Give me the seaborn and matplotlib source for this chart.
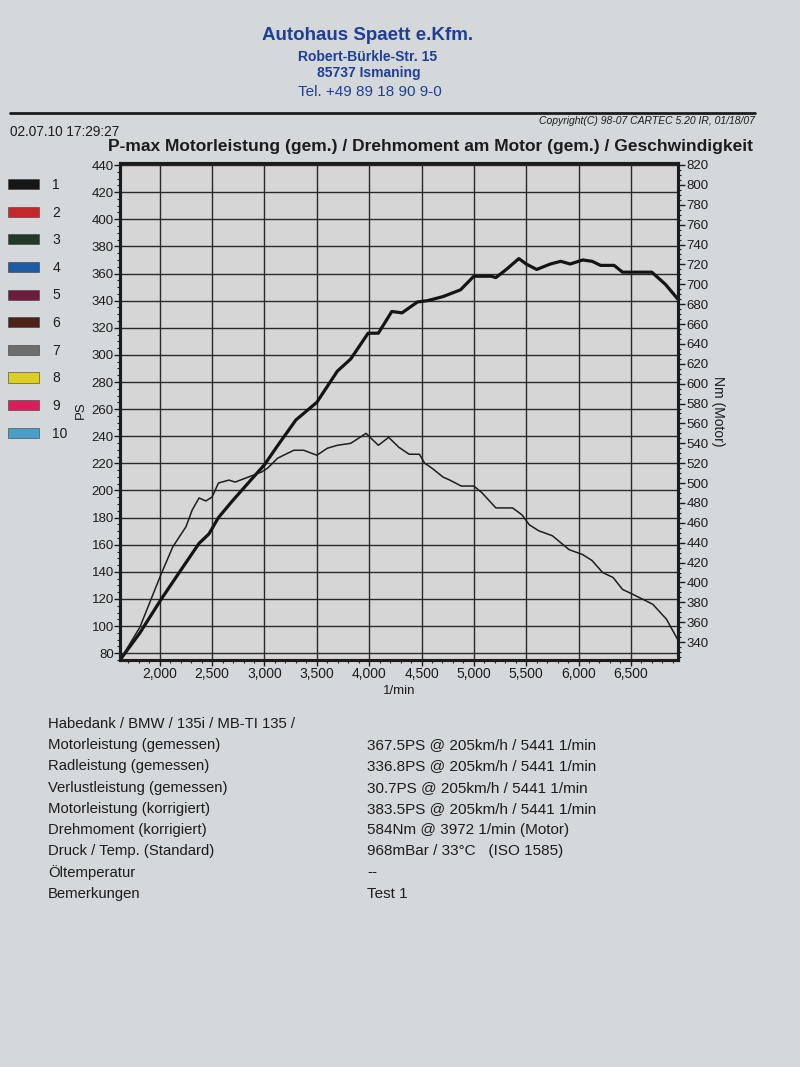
import matplotlib
matplotlib.use("Agg")
import matplotlib.pyplot as plt
from matplotlib.patches import Patch
from matplotlib.lines import Line2D
from matplotlib.ticker import MultipleLocator, FixedLocator, FuncFormatter
import pandas as pd
import seaborn as sns

# Motorleistung (gemessen) in PS ueber Drehzahl
power_rpm = [1620, 1810, 2015, 2190, 2375, 2470, 2560, 2690, 2850, 3000, 3125, 3300,
             3500, 3696, 3824, 3990, 4088, 4216, 4314, 4461, 4559, 4706, 4873, 5000,
             5167, 5210, 5310, 5430, 5500, 5600, 5730, 5830, 5920, 6040, 6130, 6210,
             6340, 6420, 6700, 6830, 6950]
power_ps = [75, 95, 120, 140, 161, 168, 180, 192, 206, 219, 233, 252,
            265, 288, 297, 316, 316, 332, 331, 339, 340, 343, 348, 358,
            358, 357, 363, 371, 367, 363, 367, 369, 367, 370, 369, 366,
            366, 361, 361, 352, 341]

# Drehmoment am Motor (gemessen) in Nm ueber Drehzahl
torque_rpm = [1620, 1810, 2015, 2125, 2250, 2310, 2375, 2440, 2500, 2560, 2660, 2720,
              2845, 2970, 3030, 3125, 3280, 3375, 3500, 3600, 3696, 3824, 3970, 4088,
              4186, 4284, 4382, 4480, 4530, 4600, 4706, 4770, 4880, 5000, 5080, 5210,
              5370, 5460, 5530, 5620, 5750, 5910, 6040, 6130, 6230, 6330, 6420, 6520,
              6710, 6840, 6950]
torque_nm = [322, 355, 409, 436, 456, 473, 485, 482, 486, 500, 503, 501,
             506, 511, 515, 525, 533, 533, 528, 535, 538, 540, 550, 538,
             546, 536, 529, 529, 520, 515, 506, 503, 497, 497, 490, 475,
             475, 468, 458, 452, 447, 433, 428, 422, 410, 405, 393, 388,
             378, 363, 342]

rpm_ticks = [2000, 2500, 3000, 3500, 4000, 4500, 5000, 5500, 6000, 6500]
ps_ticks = list(range(80, 441, 20))
nm_ticks = list(range(340, 821, 20))

legend_labels = ["1", "2", "3", "4", "5", "6", "7", "8", "9", "10"]
legend_colors = ["#161616", "#c42a2c", "#1f3a27", "#1f5ca8", "#6b1d3b",
                 "#4d2317", "#6e6e6e", "#ddcf22", "#d81f5c", "#4a9fc6"]

header_lines = ["Autohaus Spaett e.Kfm.", "Robert-Bürkle-Str. 15", "85737 Ismaning",
                "Tel. +49 89 18 90 9-0"]
info_labels = ["Habedank / BMW / 135i / MB-TI 135 /", "Motorleistung (gemessen)",
               "Radleistung (gemessen)", "Verlustleistung (gemessen)",
               "Motorleistung (korrigiert)", "Drehmoment (korrigiert)",
               "Druck / Temp. (Standard)", "Öltemperatur", "Bemerkungen"]
info_values = ["", "367.5PS @ 205km/h / 5441 1/min", "336.8PS @ 205km/h / 5441 1/min",
               "30.7PS @ 205km/h / 5441 1/min", "383.5PS @ 205km/h / 5441 1/min",
               "584Nm @ 3972 1/min (Motor)", "968mBar / 33°C   (ISO 1585)", "--", "Test 1"]

sns.set_theme(style="white")
plt.rcParams['font.family'] = ['Liberation Sans', 'DejaVu Sans']

paper = "#d4d8da"
ink = "#1c1c1c"
blue = "#203f94"

W, H = 800, 1067
fig = plt.figure(figsize=(8, 10.67), dpi=100)
fig.patch.set_facecolor(paper)


def fx(x):
    return x / W


def fy(y):
    return 1 - y / H


# Kopf
fig.text(fx(368), fy(36), header_lines[0], color=blue, fontsize=13.5, fontweight='bold',
         ha='center', va='center')
fig.text(fx(368), fy(57), header_lines[1], color=blue, fontsize=10, fontweight='bold',
         ha='center', va='center')
fig.text(fx(369), fy(73), header_lines[2], color=blue, fontsize=10, fontweight='bold',
         ha='center', va='center')
fig.text(fx(370), fy(92), header_lines[3], color=blue, fontsize=11,
         ha='center', va='center')
fig.add_artist(Line2D([fx(10), fx(755)], [fy(113), fy(113)], color=ink, lw=2))
fig.text(fx(755), fy(121), "Copyright(C) 98-07 CARTEC 5.20 IR, 01/18/07", color=ink,
         fontsize=7.5, style='italic', ha='right', va='center')
fig.text(fx(10), fy(132), "02.07.10 17:29:27", color=ink, fontsize=9.8, ha='left', va='center')
fig.text(fx(108), fy(147), "P-max Motorleistung (gem.) / Drehmoment am Motor (gem.) / Geschwindigkeit",
         color=ink, fontsize=12.5, fontweight='bold', ha='left', va='center')

# Diagramm
ax = fig.add_axes([fx(120), fy(660), fx(678) - fx(120), fy(163) - fy(660)])
ax.set_facecolor("#d7d6d7")
power = pd.DataFrame({"rpm": power_rpm, "PS": power_ps})
sns.lineplot(data=power, x="rpm", y="PS", ax=ax, color="#141414", linewidth=2.3, sort=False)
ax.set_xlim(1620, 6950)
ax.set_ylim(75, 441.5)
ax.xaxis.set_major_locator(FixedLocator(rpm_ticks))
ax.xaxis.set_minor_locator(MultipleLocator(100))
ax.xaxis.set_major_formatter(FuncFormatter(lambda v, p: f"{int(v):,}"))
ax.yaxis.set_major_locator(FixedLocator(ps_ticks))
ax.yaxis.set_minor_locator(MultipleLocator(5))
ax.grid(True, which='major', color="#2a2a2a", linewidth=1.0)
ax.tick_params(axis='both', which='major', direction='out', length=4, width=1,
               labelsize=9.5, colors=ink, pad=0.5)
ax.tick_params(axis='x', which='major', labelsize=10, pad=1)
ax.tick_params(axis='both', which='minor', direction='out', length=2.5, width=0.8, colors=ink)
ax.tick_params(axis='x', which='both', bottom=True)
ax.tick_params(axis='y', which='both', left=True)
ax.set_xlabel("1/min", fontsize=9.5, color=ink, labelpad=3)
ax.set_ylabel("PS", fontsize=9.5, color=ink)
ax.yaxis.set_label_coords(-0.06, 0.503)

ax2 = ax.twinx()
torque = pd.DataFrame({"rpm": torque_rpm, "Nm": torque_nm})
sns.lineplot(data=torque, x="rpm", y="Nm", ax=ax2, color="#1e1e1e", linewidth=1.1, sort=False)
ax2.set_ylim(322, 822)
ax2.yaxis.set_major_locator(FixedLocator(nm_ticks))
ax2.yaxis.set_minor_locator(MultipleLocator(5))
ax2.tick_params(axis='y', which='major', direction='out', length=5, width=1,
                labelsize=9.5, colors=ink, pad=1, right=True)
ax2.tick_params(axis='y', which='minor', direction='out', length=2.5, width=0.8,
                colors=ink, right=True)
ax2.set_ylabel("Nm (Motor)", fontsize=10, color=ink, rotation=270, labelpad=12)
for a in (ax, ax2):
    for s in a.spines.values():
        s.set_color(ink)
        s.set_linewidth(2.2)

# Kurvenlegende links
handles = [Patch(facecolor=c, edgecolor="#3a3a3a", linewidth=0.4) for c in legend_colors]
fig.legend(handles=handles, labels=legend_labels, loc='upper left',
           bbox_to_anchor=(fx(8), fy(178)), frameon=False, fontsize=10,
           borderpad=0, borderaxespad=0,
           handlelength=2.2, handleheight=0.75, handletextpad=1.0, labelspacing=0.98,
           labelcolor=ink)

# Messwerte
for i, (lab, val) in enumerate(zip(info_labels, info_values)):
    y = 724 + i * 21.2
    fig.text(fx(48), fy(y), lab, color=ink, fontsize=10.7, ha='left', va='center')
    if val:
        fig.text(fx(367), fy(y), val, color=ink, fontsize=11, ha='left', va='center')

fig.savefig("out.png", dpi=100, facecolor=fig.get_facecolor())
